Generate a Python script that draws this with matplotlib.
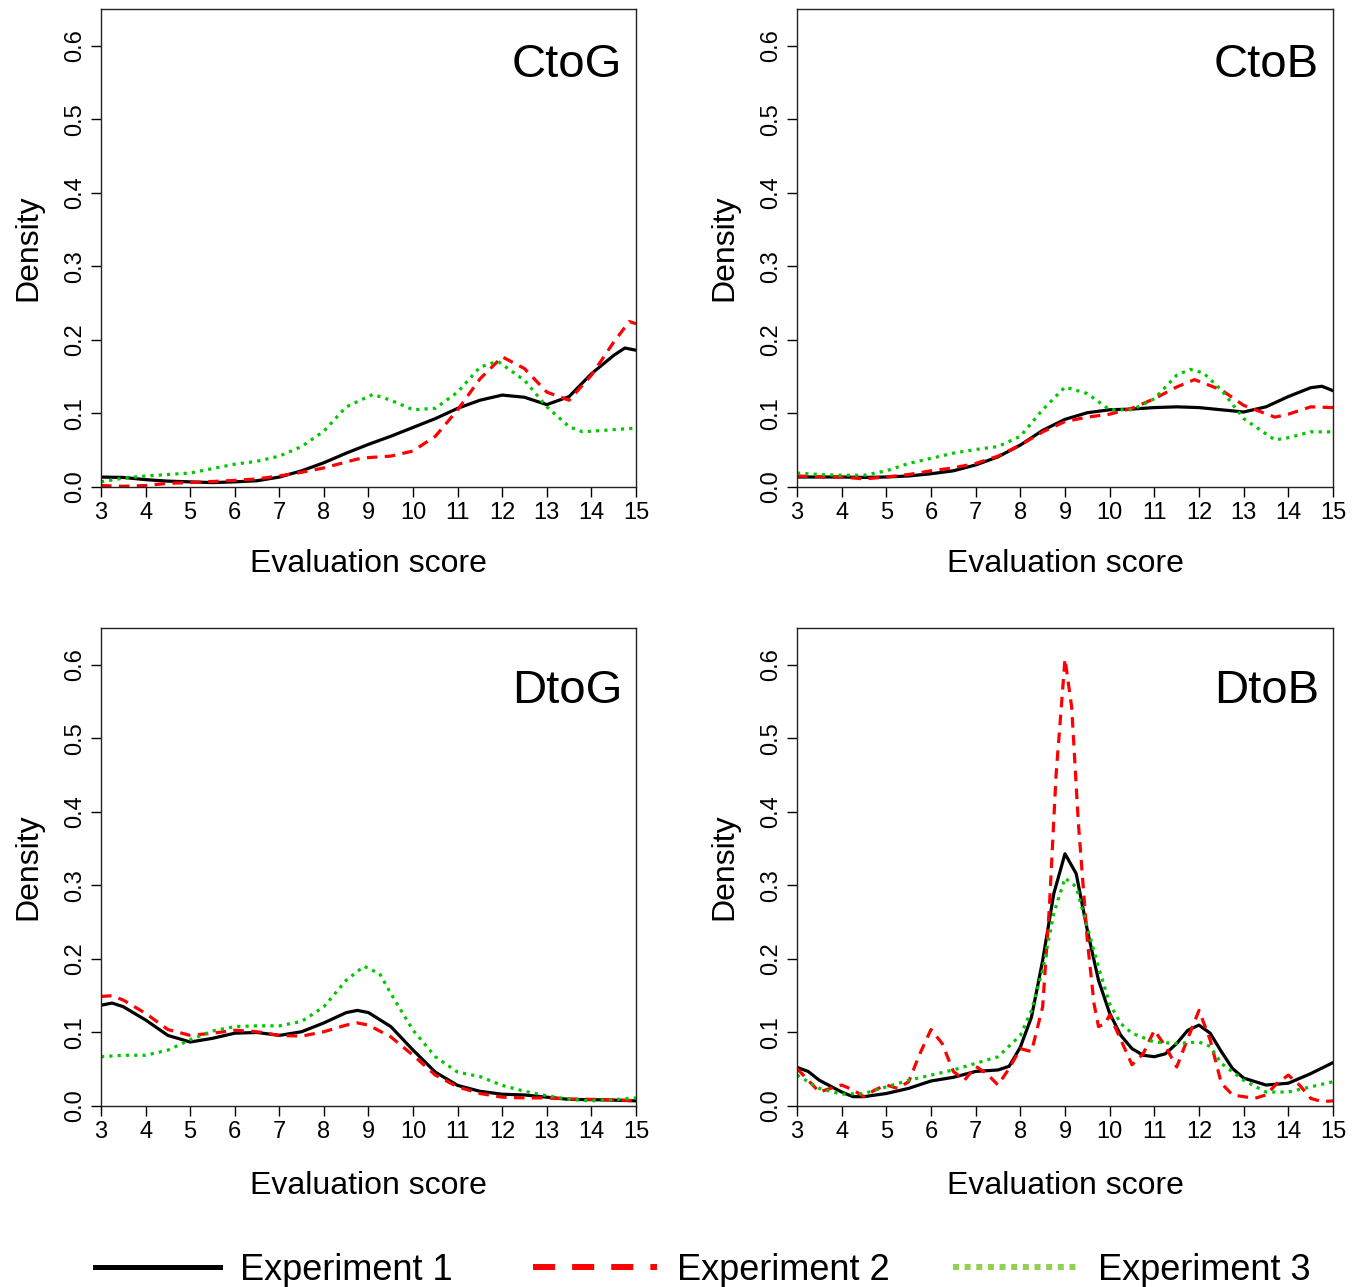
import matplotlib.pyplot as plt
from matplotlib.lines import Line2D

plt.rcParams['font.family'] = ['Liberation Sans', 'DejaVu Sans']

# density curves (x = evaluation score)
ctog_x1 = [3, 3.5, 4, 4.5, 5, 5.5, 6, 6.5, 7, 7.5, 8, 8.5, 9, 9.5, 10,
           10.5, 11, 11.5, 12, 12.5, 13, 13.5, 14, 14.5, 14.75, 15]
ctog_exp1 = [0.0135, 0.013, 0.010, 0.008, 0.007, 0.006, 0.007, 0.0085, 0.0135, 0.022,
             0.033, 0.046, 0.058, 0.069, 0.081, 0.093, 0.107, 0.118, 0.125, 0.122,
             0.112, 0.123, 0.154, 0.179, 0.189, 0.186]
ctog_x2 = [3, 3.5, 4, 4.5, 5, 5.5, 6, 6.5, 7, 7.5, 8, 8.5, 8.75, 9, 9.25, 9.5, 10,
           10.5, 11, 11.5, 12, 12.5, 13, 13.5, 14, 14.5, 14.85, 15]
ctog_exp2 = [0.002, 0.001, 0.002, 0.005, 0.006, 0.0075, 0.009, 0.011, 0.015, 0.020,
             0.026, 0.034, 0.038, 0.040, 0.041, 0.042, 0.049, 0.069, 0.105, 0.147,
             0.177, 0.161, 0.129, 0.118, 0.152, 0.197, 0.225, 0.222]
ctog_x3 = [3, 3.5, 4, 4.5, 5, 5.5, 6, 6.5, 7, 7.5, 8, 8.5, 9.1, 9.5, 10,
           10.5, 11, 11.5, 11.9, 12.5, 13, 13.5, 13.8, 14.5, 15]
ctog_exp3 = [0.007, 0.012, 0.015, 0.017, 0.019, 0.025, 0.031, 0.035, 0.042, 0.055,
             0.076, 0.109, 0.126, 0.118, 0.105, 0.107, 0.129, 0.163, 0.171, 0.145,
             0.109, 0.082, 0.075, 0.078, 0.080]

ctob_x1 = [3, 3.5, 4, 4.5, 5, 5.5, 6, 6.5, 7, 7.5, 8, 8.5, 9, 9.5, 10,
           10.5, 11, 11.5, 12, 12.5, 13, 13.5, 14, 14.5, 14.75, 15]
ctob_exp1 = [0.0136, 0.0136, 0.0136, 0.013, 0.0136, 0.015, 0.018, 0.022, 0.030, 0.041,
             0.057, 0.077, 0.092, 0.101, 0.105, 0.106, 0.108, 0.109, 0.108, 0.105,
             0.102, 0.109, 0.123, 0.135, 0.137, 0.131]
ctob_x2 = [3, 3.5, 4, 4.5, 5, 5.5, 6, 6.5, 7, 7.5, 8, 8.5, 9, 9.5, 10,
           10.5, 11, 11.5, 11.9, 12.5, 13, 13.7, 14, 14.5, 15]
ctob_exp2 = [0.015, 0.014, 0.0136, 0.011, 0.0136, 0.017, 0.022, 0.026, 0.032, 0.042,
             0.057, 0.075, 0.089, 0.095, 0.099, 0.107, 0.120, 0.136, 0.146, 0.132,
             0.111, 0.095, 0.099, 0.109, 0.108]
ctob_x3 = [3, 3.5, 4, 4.5, 5, 5.5, 6, 6.5, 7, 7.5, 8, 8.5, 9, 9.5, 10,
           10.5, 11, 11.5, 11.8, 12.1, 12.5, 13, 13.7, 14, 14.5, 15]
ctob_exp3 = [0.019, 0.017, 0.016, 0.016, 0.022, 0.032, 0.039, 0.046, 0.051, 0.055,
             0.069, 0.105, 0.136, 0.127, 0.105, 0.105, 0.120, 0.152, 0.160, 0.155,
             0.132, 0.093, 0.064, 0.067, 0.075, 0.075]

dtog_x1 = [3, 3.25, 3.5, 4, 4.5, 5, 5.5, 6, 6.5, 7, 7.5, 8, 8.5, 8.75, 9, 9.5, 10,
           10.5, 11, 11.5, 12, 12.5, 13, 13.5, 14, 14.5, 15]
dtog_exp1 = [0.137, 0.140, 0.135, 0.117, 0.096, 0.087, 0.092, 0.099, 0.100, 0.096,
             0.101, 0.113, 0.127, 0.130, 0.127, 0.108, 0.076, 0.046, 0.028, 0.020,
             0.016, 0.015, 0.012, 0.009, 0.0086, 0.008, 0.007]
dtog_x2 = [3, 3.25, 3.5, 4, 4.5, 5, 5.5, 6, 6.5, 7, 7.5, 8, 8.5, 8.75, 9, 9.5, 10,
           10.5, 11, 11.5, 12, 12.5, 13, 13.5, 14, 14.5, 15]
dtog_exp2 = [0.149, 0.150, 0.144, 0.126, 0.104, 0.096, 0.099, 0.103, 0.101, 0.096,
             0.095, 0.101, 0.110, 0.113, 0.110, 0.094, 0.069, 0.042, 0.026, 0.017,
             0.012, 0.011, 0.011, 0.0095, 0.009, 0.0086, 0.007]
dtog_x3 = [3, 3.5, 4, 4.5, 5, 5.5, 6, 6.5, 7, 7.5, 8, 8.5, 8.9, 9.25, 9.5, 10,
           10.5, 11, 11.5, 12, 12.5, 13, 13.5, 14, 14.5, 15]
dtog_exp3 = [0.067, 0.069, 0.069, 0.076, 0.090, 0.102, 0.108, 0.109, 0.109, 0.115,
             0.135, 0.171, 0.190, 0.180, 0.153, 0.103, 0.067, 0.046, 0.040, 0.028,
             0.020, 0.014, 0.009, 0.007, 0.0086, 0.011]

dtob_x1 = [3, 3.25, 3.5, 4, 4.25, 4.5, 5, 5.5, 6, 6.5, 7, 7.5, 7.75, 8, 8.25, 8.5,
           8.75, 9, 9.25, 9.5, 9.75, 10, 10.25, 10.5, 10.75, 11, 11.25, 11.5, 11.75,
           12, 12.25, 12.5, 12.75, 13, 13.5, 14, 14.5, 15]
dtob_exp1 = [0.0525, 0.047, 0.035, 0.019, 0.0127, 0.0127, 0.017, 0.024, 0.034, 0.039,
             0.047, 0.049, 0.054, 0.080, 0.121, 0.198, 0.289, 0.343, 0.316, 0.239,
             0.171, 0.126, 0.096, 0.078, 0.069, 0.067, 0.071, 0.085, 0.103, 0.110,
             0.099, 0.074, 0.051, 0.038, 0.0285, 0.031, 0.044, 0.059]
dtob_x2 = [3, 3.25, 3.5, 3.75, 4, 4.25, 4.5, 4.75, 5, 5.25, 5.5, 5.75, 6, 6.25, 6.5,
           6.75, 7, 7.25, 7.5, 7.75, 8, 8.25, 8.5, 8.65, 8.8, 9, 9.15, 9.3, 9.5, 9.65,
           9.75, 9.9, 10, 10.25, 10.5, 10.75, 11, 11.25, 11.5, 11.75, 12, 12.25, 12.5,
           12.75, 13, 13.25, 13.5, 13.75, 14, 14.25, 14.5, 14.75, 15]
dtob_exp2 = [0.051, 0.035, 0.019, 0.024, 0.0285, 0.022, 0.0127, 0.022, 0.0285, 0.024,
             0.033, 0.071, 0.104, 0.085, 0.047, 0.035, 0.054, 0.044, 0.0285, 0.051,
             0.078, 0.074, 0.135, 0.270, 0.450, 0.608, 0.542, 0.384, 0.225, 0.139,
             0.108, 0.112, 0.124, 0.090, 0.056, 0.071, 0.103, 0.081, 0.053, 0.092,
             0.130, 0.090, 0.031, 0.015, 0.0127, 0.0104, 0.015, 0.031, 0.042, 0.0285,
             0.0104, 0.006, 0.007]
dtob_x3 = [3, 3.5, 4, 4.5, 5, 5.5, 6, 6.5, 7, 7.5, 8, 8.25, 8.5, 8.75, 9, 9.25, 9.5,
           9.75, 10, 10.25, 10.5, 11, 11.5, 12, 12.25, 12.5, 13, 13.5, 14, 14.5, 15]
dtob_exp3 = [0.042, 0.024, 0.016, 0.017, 0.026, 0.035, 0.042, 0.049, 0.058, 0.067,
             0.096, 0.130, 0.185, 0.262, 0.310, 0.298, 0.243, 0.189, 0.139, 0.112,
             0.099, 0.087, 0.085, 0.087, 0.081, 0.058, 0.035, 0.019, 0.019, 0.026, 0.033]

panels = [
    ("CtoG", [(ctog_x1, ctog_exp1), (ctog_x2, ctog_exp2), (ctog_x3, ctog_exp3)]),
    ("CtoB", [(ctob_x1, ctob_exp1), (ctob_x2, ctob_exp2), (ctob_x3, ctob_exp3)]),
    ("DtoG", [(dtog_x1, dtog_exp1), (dtog_x2, dtog_exp2), (dtog_x3, dtog_exp3)]),
    ("DtoB", [(dtob_x1, dtob_exp1), (dtob_x2, dtob_exp2), (dtob_x3, dtob_exp3)]),
]
labels = ["Experiment 1", "Experiment 2", "Experiment 3"]

W, H = 1364, 1287
fig = plt.figure(figsize=(W / 100, H / 100), dpi=100)

boxes = [(101, 9, 636, 487), (797, 9, 1333, 487),
         (101, 628, 636, 1106), (797, 628, 1333, 1106)]

styles = [
    dict(color="black", lw=2.3, ls="-"),
    dict(color="#ff0000", lw=2.3, ls=(0, (3.3, 2.3)), dash_capstyle="butt"),
    dict(color="#00c800", lw=2.3, ls=(0, (1.0, 1.6)), dash_capstyle="butt"),
]

for (name, series), (l, t, r, b) in zip(panels, boxes):
    top_row = t < 100
    ax = fig.add_axes([l / W, 1 - b / H, (r - l) / W, (b - t) / H])
    for (x, y), st in zip(series, styles):
        ax.plot(x, y, **st)
    ax.set_xlim(3, 15)
    ax.set_ylim(0, 0.65)
    ax.set_xticks(range(3, 16))
    ax.set_yticks([0, 0.1, 0.2, 0.3, 0.4, 0.5, 0.6])
    ax.set_yticklabels(["0.0", "0.1", "0.2", "0.3", "0.4", "0.5", "0.6"],
                       rotation=90, va="center")
    ax.tick_params(direction="out", length=7, width=1, labelsize=17, pad=4)
    for sp in ax.spines.values():
        sp.set_linewidth(1)
        sp.set_color("#222222")
    ax.set_xlabel("Evaluation score", fontsize=23, labelpad=18 if top_row else 20)
    ax.set_ylabel("Density", fontsize=23, labelpad=15)
    ax.text(0.974, 0.857 if top_row else 0.843, name, transform=ax.transAxes,
            ha="right", va="baseline", fontsize=34)

# legend drawn below the panels
leg_y = 1 - 1267 / H
leg_ty = 1 - 1270 / H
leg_items = [
    (95, 220, 240, dict(color="black", lw=3.6, ls="-")),
    (533, 657, 677, dict(color="#ff0000", lw=4.3, ls=(0, (3.7, 2.85)),
                         dash_capstyle="butt")),
    (953, 1077, 1098, dict(color="#92d050", lw=4.3, ls=(0, (1.0, 0.95)),
                           dash_capstyle="butt")),
]
for (x0, x1, xt, st), lab in zip(leg_items, labels):
    fig.add_artist(Line2D([x0 / W, x1 / W], [leg_y, leg_y],
                          transform=fig.transFigure, **st))
    fig.text(xt / W, leg_ty, lab, ha="left", va="center", fontsize=26)

fig.savefig("out.png", dpi=100)
